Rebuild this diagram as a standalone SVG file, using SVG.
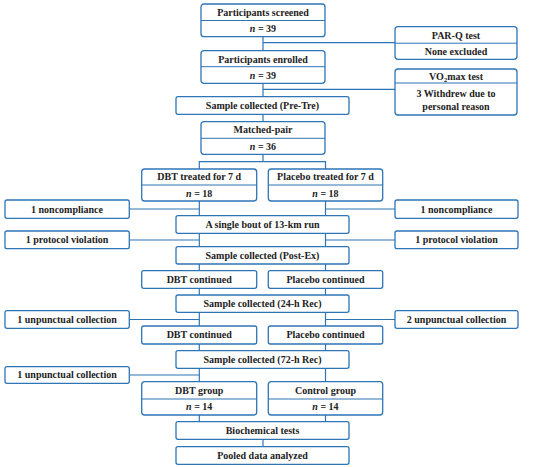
<svg xmlns="http://www.w3.org/2000/svg" width="550" height="467" viewBox="0 0 550 467">
<style>
rect{fill:#fff;stroke:#2E75B6;stroke-width:1.3}
.dv{stroke:#2E75B6;stroke-width:1;fill:none}
#connectors path{stroke:#2E75B6;stroke-width:1.2;fill:none}
text{font-family:"Liberation Serif","Times New Roman",serif;font-weight:bold;font-size:10px;fill:#222;text-anchor:middle}
.i{font-style:italic}
</style>
<rect x="0" y="0" width="550" height="467" style="stroke:none;fill:#fff"/>
<g id="connectors">
<path d="M263 36.7V50.7M263 42.7H395"/>
<path d="M263 83.3V96.7M263 89.3H395"/>
<path d="M263 114.3V121.7"/>
<path d="M263 154.3V161.7M199.3 169V161.7H325.5V169"/>
<path d="M199.3 201V215.7M129.3 209H199.3M325.5 201V215.7M325.5 209H395"/>
<path d="M199.3 233.3V246.7M129.3 240H199.3M325.5 233.3V246.7M325.5 240H395"/>
<path d="M199.3 264V270.7M325.5 264V270.7"/>
<path d="M199.3 288.3V295M325.5 288.3V295"/>
<path d="M199.3 312.3V326M129.3 319.5H199.3M325.5 312.3V326M325.5 319.5H395"/>
<path d="M199.3 344V350.7M325.5 344V350.7"/>
<path d="M199.3 368.3V381.7M129.3 375H199.3M325.5 368.3V381.7"/>
<path d="M199.3 415V421.7M325.5 415V421.7"/>
<path d="M263 439.3V446.7"/>
</g>
<g id="screened"><rect x="201" y="4" width="124" height="32.7" rx="3"/><line class="dv" x1="201" y1="20.5" x2="325" y2="20.5"/><text x="263" y="15.8">Participants screened</text><text x="263" y="32"><tspan class="i">n</tspan> = 39</text></g>
<g id="parq"><rect x="395" y="26.7" width="122" height="32.6" rx="3"/><line class="dv" x1="395" y1="43.2" x2="517" y2="43.2"/><text x="456" y="38.5">PAR-Q test</text><text x="456" y="54.5">None excluded</text></g>
<g id="enrolled"><rect x="201" y="50.7" width="124" height="32.6" rx="3"/><line class="dv" x1="201" y1="66.7" x2="325" y2="66.7"/><text x="263" y="62.5">Participants enrolled</text><text x="263" y="78.5"><tspan class="i">n</tspan> = 39</text></g>
<g id="vo2max"><rect x="395" y="69" width="122" height="46" rx="3"/><line class="dv" x1="395" y1="83" x2="517" y2="83"/><text x="456" y="79.5">VO<tspan font-size="7" dy="2">2</tspan><tspan dy="-2">max test</tspan></text><text x="456" y="96.5">3 Withdrew due to</text><text x="456" y="110">personal reason</text></g>
<g id="pretre"><rect x="176" y="96.7" width="173" height="17.6" rx="2"/><text x="262.5" y="108.8">Sample collected (Pre-Tre)</text></g>
<g id="matched"><rect x="201" y="121.7" width="124" height="32.6" rx="3"/><line class="dv" x1="201" y1="138.3" x2="325" y2="138.3"/><text x="263" y="133.3">Matched-pair</text><text x="263" y="149.8"><tspan class="i">n</tspan> = 36</text></g>
<g id="dbt-treated"><rect x="141.7" y="169" width="115" height="32" rx="3"/><line class="dv" x1="141.7" y1="185" x2="256.7" y2="185"/><text x="199.2" y="180.3">DBT treated for 7 d</text><text x="199.2" y="196.5"><tspan class="i">n</tspan> = 18</text></g>
<g id="placebo-treated"><rect x="268.3" y="169" width="114.4" height="32" rx="3"/><line class="dv" x1="268.3" y1="185" x2="382.7" y2="185"/><text x="325.5" y="180.3">Placebo treated for 7 d</text><text x="325.5" y="196.5"><tspan class="i">n</tspan> = 18</text></g>
<g id="noncomp-l"><rect x="5" y="200" width="124.3" height="18.3" rx="2"/><text x="67" y="212.5">1 noncompliance</text></g>
<g id="noncomp-r"><rect x="395" y="200" width="123" height="18.3" rx="2"/><text x="456.5" y="212.5">1 noncompliance</text></g>
<g id="run"><rect x="176" y="215.7" width="173" height="17.6" rx="2"/><text x="262.5" y="227.8">A single bout of 13-km run</text></g>
<g id="protocol-l"><rect x="5" y="231" width="124.3" height="17.7" rx="2"/><text x="67" y="243.3">1 protocol violation</text></g>
<g id="protocol-r"><rect x="395" y="231" width="123" height="17.7" rx="2"/><text x="456.5" y="243.3">1 protocol violation</text></g>
<g id="postex"><rect x="176" y="246.7" width="173" height="17.3" rx="2"/><text x="262.5" y="258.7">Sample collected (Post-Ex)</text></g>
<g id="dbt-cont1"><rect x="141.7" y="270.7" width="115" height="17.6" rx="2"/><text x="199.2" y="282.8">DBT continued</text></g>
<g id="placebo-cont1"><rect x="268.3" y="270.7" width="114.4" height="17.6" rx="2"/><text x="325.5" y="282.8">Placebo continued</text></g>
<g id="rec24"><rect x="176" y="295" width="173" height="17.3" rx="2"/><text x="262.5" y="307">Sample collected (24-h Rec)</text></g>
<g id="unpunct-l1"><rect x="5" y="310.7" width="124.3" height="17.6" rx="2"/><text x="67" y="322.8">1 unpunctual collection</text></g>
<g id="unpunct-r1"><rect x="395" y="310.7" width="123" height="17.6" rx="2"/><text x="456.5" y="322.8">2 unpunctual collection</text></g>
<g id="dbt-cont2"><rect x="141.7" y="326" width="115" height="18" rx="2"/><text x="199.2" y="338.3">DBT continued</text></g>
<g id="placebo-cont2"><rect x="268.3" y="326" width="114.4" height="18" rx="2"/><text x="325.5" y="338.3">Placebo continued</text></g>
<g id="rec72"><rect x="176" y="350.7" width="173" height="17.6" rx="2"/><text x="262.5" y="362.8">Sample collected (72-h Rec)</text></g>
<g id="unpunct-l2"><rect x="5" y="366.7" width="124.3" height="16.6" rx="2"/><text x="67" y="378.4">1 unpunctual collection</text></g>
<g id="dbt-group"><rect x="141.7" y="381.7" width="115" height="33.3" rx="3"/><line class="dv" x1="141.7" y1="399" x2="256.7" y2="399"/><text x="199.2" y="393.6">DBT group</text><text x="199.2" y="410.3"><tspan class="i">n</tspan> = 14</text></g>
<g id="control-group"><rect x="268.3" y="381.7" width="114.4" height="33.3" rx="3"/><line class="dv" x1="268.3" y1="399" x2="382.7" y2="399"/><text x="325.5" y="393.6">Control group</text><text x="325.5" y="410.3"><tspan class="i">n</tspan> = 14</text></g>
<g id="biochem"><rect x="176" y="421.7" width="173" height="17.6" rx="2"/><text x="262.5" y="433.8">Biochemical tests</text></g>
<g id="pooled"><rect x="176" y="446.7" width="173" height="17.6" rx="2"/><text x="262.5" y="458.8">Pooled data analyzed</text></g>
</svg>
